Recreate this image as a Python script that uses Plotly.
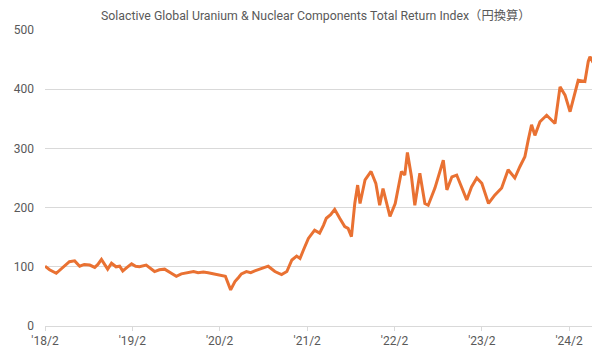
import plotly.graph_objects as go

dates = [
    "2018-02-01", "2018-02-20", "2018-03-20", "2018-04-10", "2018-05-14", "2018-06-05",
    "2018-06-26", "2018-07-15", "2018-08-07", "2018-08-28", "2018-09-10", "2018-09-25",
    "2018-10-21", "2018-11-06", "2018-11-25", "2018-12-10", "2018-12-23", "2019-01-10",
    "2019-01-29", "2019-02-15", "2019-03-03", "2019-03-31", "2019-04-15", "2019-05-05",
    "2019-05-25", "2019-06-16", "2019-07-14", "2019-08-04", "2019-08-25", "2019-09-22",
    "2019-10-15", "2019-11-03", "2019-11-25", "2019-12-15", "2020-01-12", "2020-02-10",
    "2020-02-25", "2020-03-18", "2020-04-05", "2020-04-20", "2020-05-02", "2020-05-23",
    "2020-06-10", "2020-06-27", "2020-07-10", "2020-07-25", "2020-08-22", "2020-09-19",
    "2020-10-17", "2020-11-08", "2020-11-29", "2020-12-19", "2021-01-02", "2021-01-16",
    "2021-02-06", "2021-03-04", "2021-03-25", "2021-04-10", "2021-04-22", "2021-05-10",
    "2021-05-27", "2021-06-17", "2021-07-08", "2021-07-22", "2021-08-05", "2021-08-19",
    "2021-08-31", "2021-09-10", "2021-10-01", "2021-10-26", "2021-11-15", "2021-12-01",
    "2021-12-15", "2022-01-13", "2022-02-04", "2022-03-02", "2022-03-16", "2022-03-27",
    "2022-04-13", "2022-04-27", "2022-05-18", "2022-06-08", "2022-06-22", "2022-07-20",
    "2022-08-10", "2022-08-24", "2022-09-08", "2022-09-29", "2022-10-19", "2022-11-09",
    "2022-11-30", "2022-12-20", "2023-01-11", "2023-02-01", "2023-03-01", "2023-03-27",
    "2023-04-25", "2023-05-22", "2023-06-19", "2023-07-10", "2023-07-31", "2023-08-14",
    "2023-08-28", "2023-09-11", "2023-10-02", "2023-10-30", "2023-12-04", "2023-12-25",
    "2024-01-15", "2024-02-05", "2024-03-10", "2024-04-07", "2024-04-21", "2024-04-28",
    "2024-05-11",
]
values = [
    101, 95, 89, 96, 108.6, 110,
    101, 104, 103, 99, 104, 112.6,
    96, 106, 100, 101, 93, 99,
    105, 101, 100, 103, 98, 92,
    95, 96, 89, 84, 88, 90,
    92, 90, 91, 90, 88, 86,
    84, 61, 75, 82, 88, 92,
    90, 93, 95, 97.5, 101, 92,
    87, 92, 111.5, 118, 114, 128,
    148, 162, 157, 170, 182, 188,
    197, 182, 168, 165, 151, 207,
    238, 207, 247, 261, 241, 204,
    232, 185, 207, 261, 255, 293,
    252, 204, 258, 207, 204, 233,
    261, 280, 230, 252, 255, 233,
    213, 235, 250, 241, 207, 221,
    233, 264, 250, 269, 286, 314,
    340, 322, 345, 356, 342, 404,
    390, 362, 415, 413, 447, 455,
    445,
]

tick_dates = ["2018-02-01", "2019-02-01", "2020-02-01", "2021-02-01",
              "2022-02-01", "2023-02-01", "2024-02-01"]
tick_labels = ["'18/2", "'19/2", "'20/2", "'21/2", "'22/2", "'23/2", "'24/2"]
y_ticks = [0, 100, 200, 300, 400, 500]

title_text = "Solactive Global Uranium & Nuclear Components Total Return Index（円換算）"

fig = go.Figure()
fig.add_trace(go.Scatter(
    x=dates, y=values, mode="lines",
    line=dict(color="#E97132", width=3),
    hoverinfo="skip",
))

font_family = "Roboto, 'Noto Sans CJK JP', sans-serif"

fig.update_layout(
    width=600, height=358,
    margin=dict(l=37, r=14, t=22, b=40, autoexpand=False),
    paper_bgcolor="white", plot_bgcolor="white",
    showlegend=False,
    font=dict(family=font_family, size=12, color="#595959"),
    title=dict(text=title_text, x=0.513, xanchor="center", y=1 - 8 / 358, yanchor="middle",
               font=dict(family=font_family, size=12.3, color="#595959")),
    xaxis=dict(
        range=["2018-02-01", "2024-05-15"],
        tickvals=tick_dates, ticktext=tick_labels, automargin=False,
        showgrid=False, showline=True, linecolor="#D9D9D9", linewidth=1,
        ticks="outside", ticklen=4, tickcolor="#D9D9D9",
        tickfont=dict(size=12, color="#595959"), zeroline=False,
    ),
    yaxis=dict(
        range=[0, 500], tickvals=y_ticks, automargin=False,
        showgrid=True, gridcolor="#D9D9D9", gridwidth=1,
        zeroline=False, showline=False, ticks="",
        tickfont=dict(size=12, color="#595959"), ticklabelstandoff=10,
    ),
)

fig.write_html("out.html")
